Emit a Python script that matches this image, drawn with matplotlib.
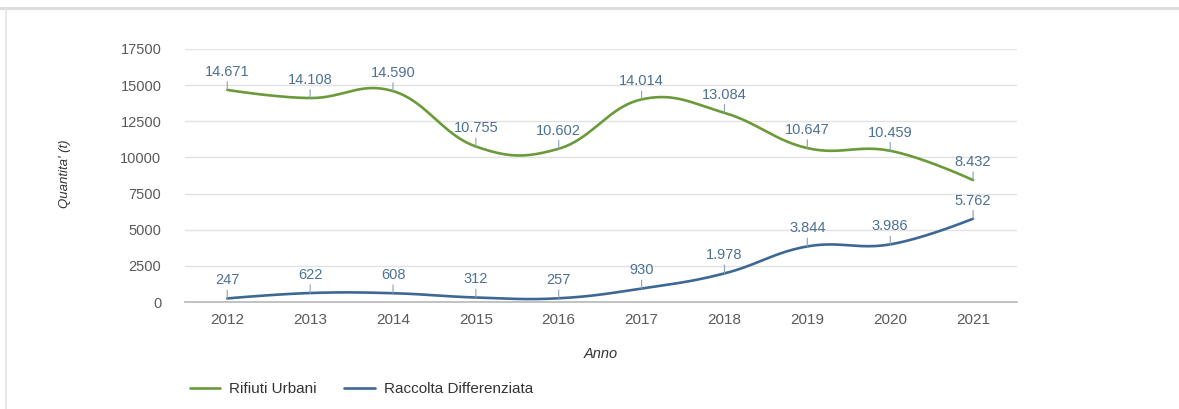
import numpy as np
import matplotlib
matplotlib.use('Agg')
import matplotlib.pyplot as plt
from matplotlib.lines import Line2D

plt.rcParams['font.family'] = ['Liberation Sans', 'DejaVu Sans']

anni = [2012, 2013, 2014, 2015, 2016, 2017, 2018, 2019, 2020, 2021]
rifiuti_urbani = [14671, 14108, 14590, 10755, 10602, 14014, 13084, 10647, 10459, 8432]
raccolta_differenziata = [247, 622, 608, 312, 257, 930, 1978, 3844, 3986, 5762]
y_ticks = [0, 2500, 5000, 7500, 10000, 12500, 15000, 17500]

verde = '#6b9a3a'
blu = '#3d6894'
testo_etichette = '#4d7194'


def spline(xs, ys, steps=40):
    # smooth bezier through the points, control points a la Highcharts
    xs = np.asarray(xs, float)
    ys = np.asarray(ys, float)
    n = len(xs)
    lc = np.column_stack([xs, ys]).copy()
    rc = np.column_stack([xs, ys]).copy()
    for i in range(1, n - 1):
        lx = (1.5 * xs[i] + xs[i - 1]) / 2.5
        ly = (1.5 * ys[i] + ys[i - 1]) / 2.5
        rx = (1.5 * xs[i] + xs[i + 1]) / 2.5
        ry = (1.5 * ys[i] + ys[i + 1]) / 2.5
        corr = (ry - ly) * (rx - xs[i]) / (rx - lx) + ys[i] - ry
        lc[i] = (lx, ly + corr)
        rc[i] = (rx, ry + corr)
    t = np.linspace(0, 1, steps)[:, None]
    pts = []
    for i in range(n - 1):
        p0 = np.array([xs[i], ys[i]])
        p3 = np.array([xs[i + 1], ys[i + 1]])
        p1, p2 = rc[i], lc[i + 1]
        seg = ((1 - t) ** 3) * p0 + 3 * ((1 - t) ** 2) * t * p1 + 3 * (1 - t) * t ** 2 * p2 + t ** 3 * p3
        pts.append(seg if i == 0 else seg[1:])
    pts = np.vstack(pts)
    return pts[:, 0], pts[:, 1]


def fmt(v):
    return f"{v:,}".replace(",", ".")


fig = plt.figure(figsize=(11.79, 4.09), dpi=100)
ax = fig.add_axes([185 / 1179, 1 - 302 / 409, 832 / 1179, 253 / 409])

for serie, col, nome in [(rifiuti_urbani, verde, 'Rifiuti Urbani'),
                         (raccolta_differenziata, blu, 'Raccolta Differenziata')]:
    sx, sy = spline(anni, serie)
    ax.plot(sx, sy, color=col, lw=1.9, label=nome, solid_capstyle='round', zorder=3)
    for a, v in zip(anni, serie):
        ax.annotate(fmt(v), xy=(a, v), xytext=(0, 13), textcoords='offset points',
                    ha='center', va='center', fontsize=10.5, color=testo_etichette,
                    arrowprops=dict(arrowstyle='-', color='#8aa0b4', lw=0.8,
                                    shrinkA=0, shrinkB=0), zorder=4)

ax.set_xlim(2011.49, 2021.53)
ax.set_ylim(0, 17500)
ax.set_yticks(y_ticks)
ax.set_xticks(anni)
ax.set_xticklabels([str(a) for a in anni])
ax.grid(axis='y', color='#e2e2e2', lw=1)
ax.set_axisbelow(True)
for s in ['top', 'right', 'left']:
    ax.spines[s].set_visible(False)
ax.spines['bottom'].set_color('#bdbdbd')
ax.spines['bottom'].set_linewidth(1.3)
ax.tick_params(axis='both', length=0, colors='#5a5a5a')
ax.tick_params(axis='y', labelsize=10.5, pad=17)
ax.tick_params(axis='x', labelsize=11, pad=8)

ax.set_xlabel('Anno', fontsize=10.5, style='italic', color='#333333', labelpad=14)
fig.text(65 / 1179, 1 - 174 / 409, "Quantita' (t)", rotation=90, fontsize=9.5,
         style='italic', color='#333333', ha='center', va='center')

fig.legend(loc='center left', bbox_to_anchor=(182 / 1179, 1 - 389 / 409), ncol=2,
           frameon=False, fontsize=11, handlelength=2.0, handletextpad=0.6,
           columnspacing=1.8, borderpad=0, labelcolor='#333333')

# light frame around the panel
fig.add_artist(Line2D([0, 1], [1 - 8 / 409] * 2, color='#dcdcdc', lw=2.2, transform=fig.transFigure))
fig.add_artist(Line2D([6 / 1179] * 2, [0, 1 - 8 / 409], color='#e4e4e4', lw=1.2, transform=fig.transFigure))

fig.savefig('out.png', dpi=100, facecolor='white')
